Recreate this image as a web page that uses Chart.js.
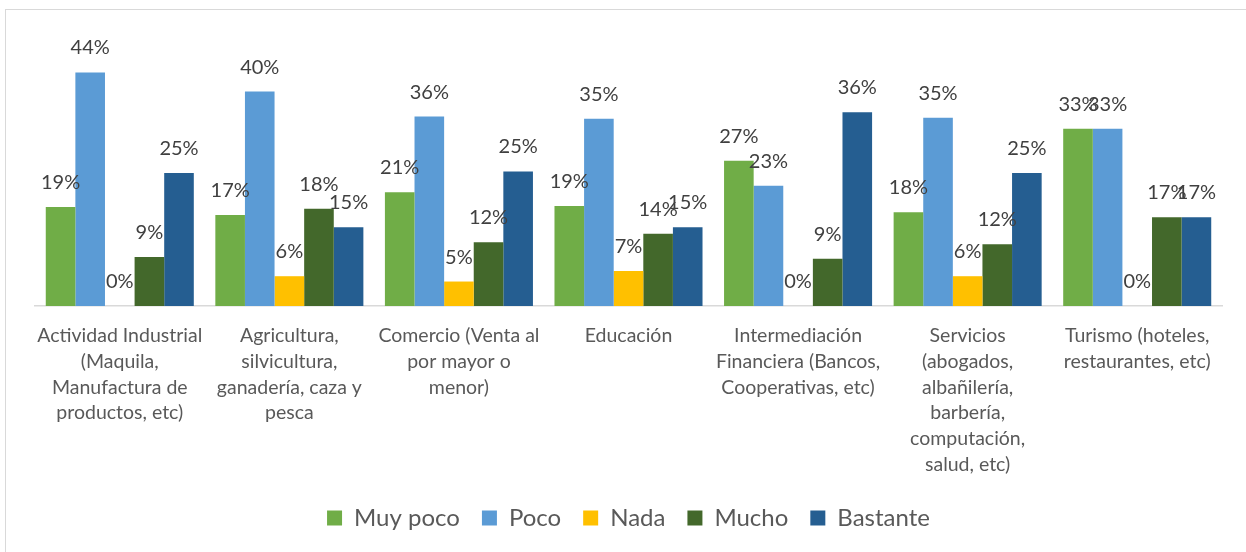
<!DOCTYPE html>
<html>
<head>
<meta charset="utf-8">
<script src="https://cdn.jsdelivr.net/npm/chart.js@4.4.0/dist/chart.umd.min.js"></script>
<style>
  body { margin: 0; background: #fff; }
  #marco { position: absolute; left: 5px; top: 9px; width: 1241px; height: 543px; border-top: 1px solid #D9D9D9; border-left: 1px solid #D9D9D9; }
  #grafico { position: absolute; left: 0; top: 0; }
</style>
</head>
<body>
<div id="marco"></div>
<canvas id="grafico" width="1246" height="552"></canvas>
<script>
// Datos del gráfico (porcentajes)
const categorias = [
  ["Actividad Industrial", "(Maquila,", "Manufactura de", "productos, etc)"],
  ["Agricultura,", "silvicultura,", "ganadería, caza y", "pesca"],
  ["Comercio (Venta al", "por mayor o", "menor)"],
  ["Educación"],
  ["Intermediación", "Financiera (Bancos,", "Cooperativas, etc)"],
  ["Servicios", "(abogados,", "albañilería,", "barbería,", "computación,", "salud, etc)"],
  ["Turismo (hoteles,", "restaurantes, etc)"]
];
const muyPoco  = [18.6, 17.1, 21.4, 18.8, 27.3, 17.6, 33.3];
const poco     = [43.9, 40.3, 35.6, 35.2, 22.6, 35.4, 33.3];
const nada     = [0, 5.6, 4.6, 6.6, 0, 5.6, 0];
const mucho    = [9.2, 18.3, 12.0, 13.6, 8.9, 11.6, 16.7];
const bastante = [25.0, 14.8, 25.3, 14.8, 36.4, 25.0, 16.7];

const series = [
  { nombre: "Muy poco", datos: muyPoco, color: "#70AD47" },
  { nombre: "Poco", datos: poco, color: "#5B9BD5" },
  { nombre: "Nada", datos: nada, color: "#FFC000" },
  { nombre: "Mucho", datos: mucho, color: "#43682B" },
  { nombre: "Bastante", datos: bastante, color: "#255E91" }
];

// Plugin para escribir el porcentaje encima de cada barra
Chart.register({
  id: 'etiquetas',
  afterDatasetsDraw(chart) {
    const ctx = chart.ctx;
    ctx.save();
    ctx.font = '20px Lato';
    ctx.fillStyle = '#404040';
    ctx.textAlign = 'center';
    ctx.textBaseline = 'alphabetic';
    chart.data.datasets.forEach((ds, i) => {
      chart.getDatasetMeta(i).data.forEach((barra, j) => {
        ctx.fillText(Math.round(ds.data[j]) + '%', barra.x, barra.y - 18);
      });
    });
    ctx.restore();
  }
});

new Chart(document.getElementById('grafico'), {
  type: 'bar',
  data: {
    labels: categorias,
    datasets: series.map(s => ({
      label: s.nombre,
      data: s.datos,
      backgroundColor: s.color,
      borderWidth: 0,
      categoryPercentage: 0.873,
      barPercentage: 1.0
    }))
  },
  options: {
    responsive: false,
    animation: false,
    layout: { padding: { left: 35, right: 24, top: 40, bottom: 12 } },
    scales: {
      x: {
        grid: { display: false, drawTicks: false },
        border: { display: true, color: '#D9D9D9', width: 1.5 },
        ticks: {
          font: { family: 'Lato', size: 19.5, lineHeight: 1.318 },
          color: '#595959',
          padding: 17,
          maxRotation: 0,
          autoSkip: false
        },
        afterFit(escala) { escala.height = 178; }
      },
      y: { display: false, min: 0, max: 50 }
    },
    plugins: {
      legend: {
        position: 'bottom',
        labels: {
          boxWidth: 15,
          boxHeight: 15,
          padding: 22,
          color: '#595959',
          font: { family: 'Lato', size: 24 }
        }
      },
      tooltip: { enabled: false }
    }
  }
});
</script>
</body>
</html>
